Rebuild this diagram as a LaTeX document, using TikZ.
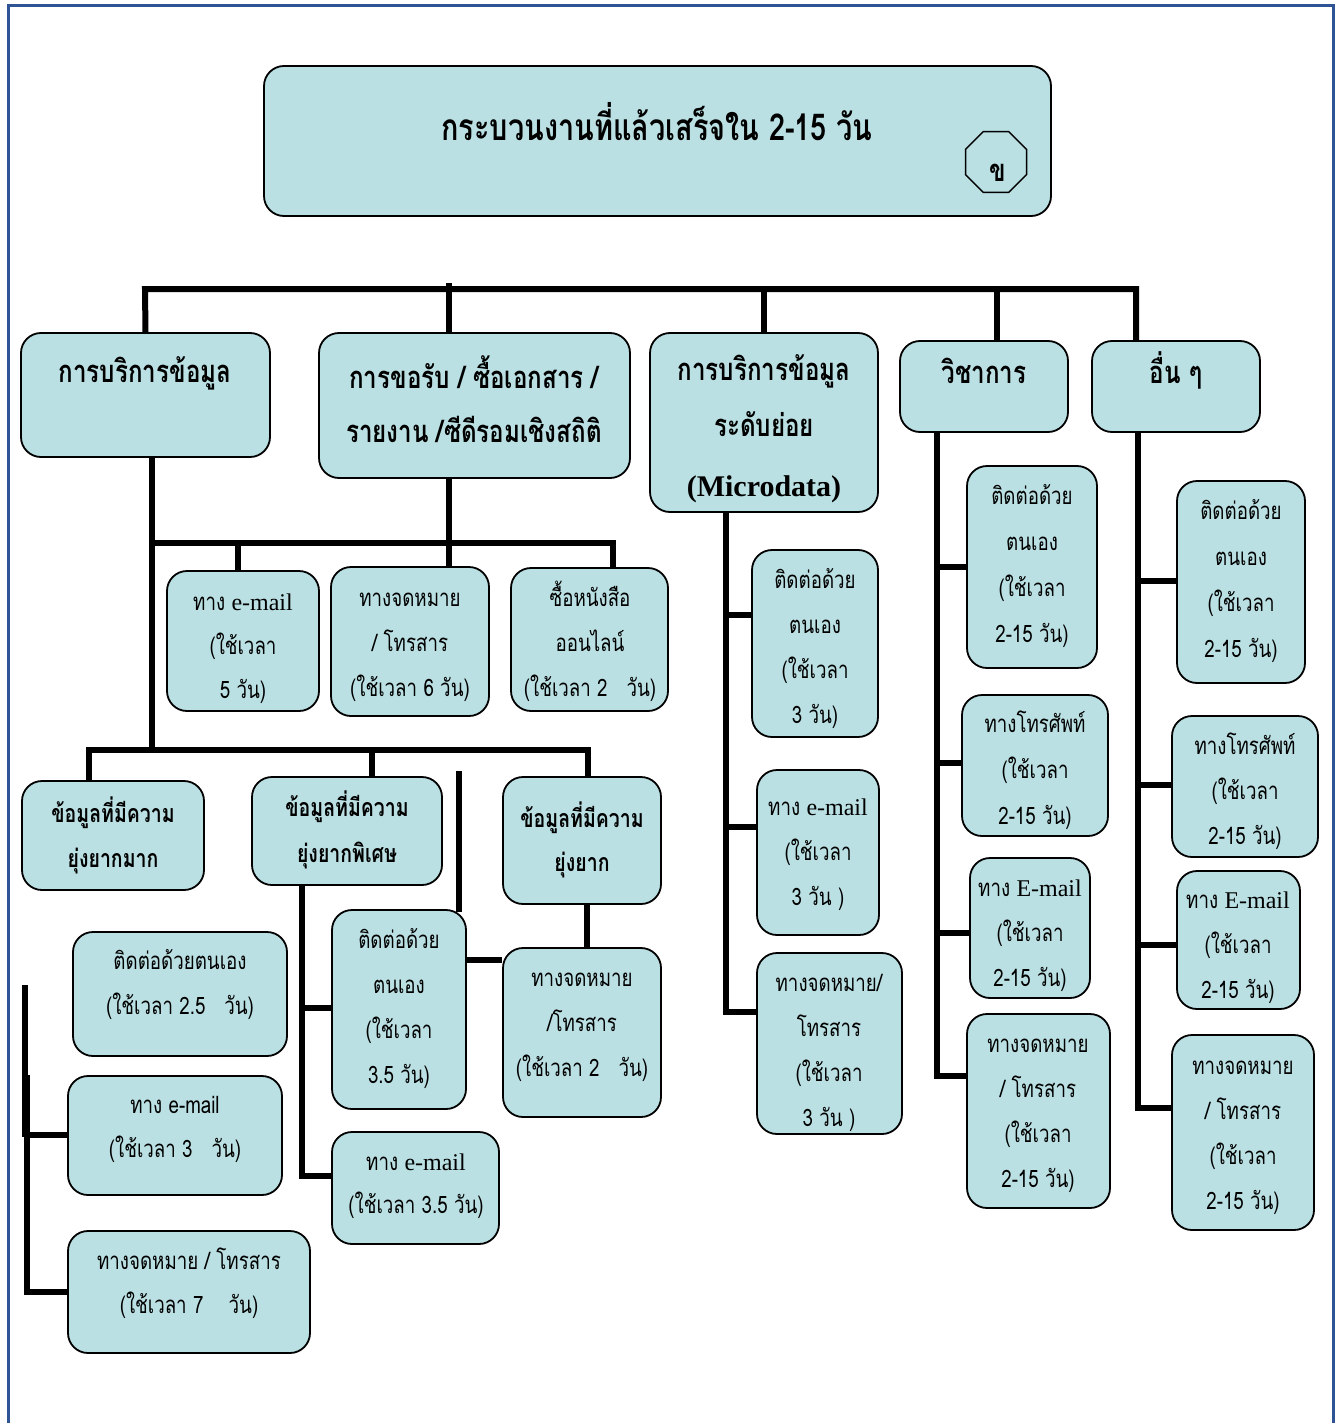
\documentclass[tikz,border=0pt]{standalone}
\usepackage{fontspec}
\usetikzlibrary{shapes.geometric}
\setmainfont[Script=Thai]{Loma}
\newfontfamily\threg[Script=Thai,FakeStretch=0.78]{Loma}
\newfontfamily\en{Liberation Serif}
\definecolor{boxfill}{RGB}{186,224,227}
\definecolor{frameblue}{RGB}{47,84,150}
\tikzset{
  box/.style={draw=black, line width=1.8pt, fill=boxfill, rounded corners=20pt, inner sep=0pt},
  conn/.style={draw=black, line width=6pt},
  frm/.style={draw=frameblue, line width=3pt},
  tx/.style={inner sep=0pt, anchor=base, font=\threg\fontsize{24}{28}\selectfont},
  hd/.style={inner sep=0pt, anchor=base, font=\threg\bfseries\fontsize{31}{34}\selectfont},
  sh/.style={inner sep=0pt, anchor=base, font=\threg\bfseries\fontsize{25}{28}\selectfont},
  ttl/.style={inner sep=0pt, anchor=base, font=\threg\bfseries\fontsize{37}{40}\selectfont},
}
\newcommand\bx[5]{\node[box, minimum width={(#4-#2)*1pt}, minimum height={(#5-#3)*1pt}] (#1) at ({(#2+#4)/2},{(#3+#5)/2}) {};}
\newcommand\tl[6]{\foreach \l [count=\i] in {#6}{\node[#1] (#2-\i) at (#3,{#4+(\i-1)*#5}) {\l};}}
\begin{document}
\begin{tikzpicture}[x=1pt,y=-1pt]
\useasboundingbox (0,0) rectangle (1341,1423);
% frame
\draw[frm] (8,1430) -- (8,6) -- (1333,6) -- (1333,1430);

% junction coordinates
\coordinate (t1) at (145,289);
\coordinate (t2) at (449,283);
\coordinate (t3) at (764,289);
\coordinate (t4) at (997,289);
\coordinate (t5) at (1136,289);
\coordinate (a1) at (152,543);
\coordinate (a2) at (449,543);
\coordinate (a3) at (613,543);
\coordinate (a4) at (238,543);
\coordinate (m0) at (152,750);
\coordinate (m1) at (89,750);
\coordinate (m2) at (372,750);
\coordinate (m3) at (588,750);
\coordinate (s1) at (459,771);
\coordinate (s2) at (459,912);
\coordinate (d2v) at (302,885);
\coordinate (d2a) at (302,1008);
\coordinate (d2b) at (302,1176);
\coordinate (d3v) at (587,948);
\coordinate (ef) at (466,960);
\coordinate (g0) at (25,985);
\coordinate (g1) at (25,1137);
\coordinate (g2) at (27,1075);
\coordinate (g3) at (27,1135);
\coordinate (g4) at (27,1292);
\coordinate (h0) at (726,512);
\coordinate (h1) at (726,615);
\coordinate (h2) at (726,827);
\coordinate (h3) at (726,1012);
\coordinate (i0) at (937,432);
\coordinate (i1) at (937,567);
\coordinate (i2) at (937,763);
\coordinate (i3) at (937,933);
\coordinate (i4) at (937,1076);
\coordinate (j0) at (1138,432);
\coordinate (j1) at (1138,581);
\coordinate (j2) at (1138,785);
\coordinate (j3) at (1138,945);
\coordinate (j4) at (1138,1108);

% boxes
\bx{title}{264}{66}{1051}{216}
\node[draw=black, line width=1.5pt, fill=boxfill, regular polygon, regular polygon sides=8, minimum size=66pt, inner sep=0pt] (oct) at (996,162) {};
\bx{b1}{21}{333}{270}{457}
\bx{b2}{319}{333}{630}{478}
\bx{b3}{650}{333}{878}{512}
\bx{b4}{900}{341}{1068}{432}
\bx{b5}{1092}{341}{1260}{432}
\bx{c1}{167}{571}{319}{711}
\bx{c2}{331}{567}{489}{716}
\bx{c3}{511}{568}{668}{711}
\bx{d1}{22}{781}{204}{890}
\bx{d2}{252}{777}{442}{885}
\bx{d3}{503}{777}{661}{904}
\bx{e1}{332}{910}{466}{1109}
\bx{e2}{332}{1132}{499}{1244}
\bx{f1}{503}{948}{661}{1117}
\bx{g1b}{73}{932}{287}{1056}
\bx{g2b}{68}{1076}{282}{1195}
\bx{g3b}{68}{1231}{310}{1353}
\bx{h1b}{752}{550}{878}{737}
\bx{h2b}{757}{770}{879}{935}
\bx{h3b}{757}{953}{902}{1134}
\bx{i1b}{967}{466}{1097}{668}
\bx{i2b}{962}{695}{1108}{836}
\bx{i3b}{970}{858}{1090}{998}
\bx{i4b}{967}{1014}{1110}{1208}
\bx{j1b}{1177}{481}{1305}{683}
\bx{j2b}{1172}{716}{1318}{857}
\bx{j3b}{1177}{871}{1300}{1009}
\bx{j4b}{1172}{1035}{1314}{1230}

% connectors
\draw[conn] (b1.north) -- (t1) -- (t5) -- (b5.north -| t5);
\draw[conn] (t2) -- (b2.north -| t2);
\draw[conn] (t3) -- (b3.north);
\draw[conn] (t4) -- (b4.north -| t4);
\draw[conn] (b1.south -| a1) -- (m0);
\draw[conn] (b2.south -| a2) -- (c2.north -| a2);
\draw[conn] (a1) -- (a3) -- (c3.north -| a3);
\draw[conn] (a4) -- (c1.north -| a4);
\draw[conn] (d1.north -| m1) -- (m1) -- (m3) -- (d3.north -| m3);
\draw[conn] (m2) -- (d2.north -| m2);
\draw[conn] (s1) -- (s2);
\draw[conn] (d2.south -| d2v) -- (d2b) -- (e2.west |- d2b);
\draw[conn] (d2a) -- (e1.west |- d2a);
\draw[conn] (d3.south -| d3v) -- (f1.north -| d3v);
\draw[conn] (ef) -- (f1.west |- ef);
\draw[conn] (g0) -- (g1);
\draw[conn] (g2) -- (g4) -- (g3b.west |- g4);
\draw[conn] (g3) -- (g2b.west |- g3);
\draw[conn] (b3.south -| h0) -- (h3) -- (h3b.west |- h3);
\draw[conn] (h1) -- (h1b.west |- h1);
\draw[conn] (h2) -- (h2b.west |- h2);
\draw[conn] (i0) -- (i4) -- (i4b.west |- i4);
\draw[conn] (i1) -- (i1b.west |- i1);
\draw[conn] (i2) -- (i2b.west |- i2);
\draw[conn] (i3) -- (i3b.west |- i3);
\draw[conn] (j0) -- (j4) -- (j4b.west |- j4);
\draw[conn] (j1) -- (j1b.west |- j1);
\draw[conn] (j2) -- (j2b.west |- j2);
\draw[conn] (j3) -- (j3b.west |- j3);

% texts
\node[ttl] (title-t) at (657,141) {กระบวนงานที่แล้วเสร็จใน 2-15 วัน};
\node[hd] (oct-t) at (998,182) {ข};
\tl{hd}{b1t}{145}{382}{54}{{การบริการข้อมูล}}
\tl{hd}{b2t}{474}{388}{54}{{การขอรับ / ซื้อเอกสาร /},{รายงาน /ซีดีรอมเชิงสถิติ}}
\tl{hd}{b3t}{764}{380}{56}{{การบริการข้อมูล},{ระดับย่อย}}
\node[hd, font=\en\bfseries\fontsize{30}{34}\selectfont] (b3t-3) at (764,496) {(Microdata)};
\tl{hd}{b4t}{984}{383}{54}{{วิชาการ}}
\tl{hd}{b5t}{1176}{383}{54}{{อื่น ๆ}}
\tl{tx}{c1t}{243}{610}{44}{{ทาง {\en e-mail}},{(ใช้เวลา},{5 วัน)}}
\tl{tx}{c2t}{410}{606}{45}{{ทางจดหมาย},{/ โทรสาร},{(ใช้เวลา 6 วัน)}}
\tl{tx}{c3t}{590}{606}{45}{{ซื้อหนังสือ},{ออนไลน์},{(ใช้เวลา 2~~ วัน)}}
\tl{sh}{d1t}{113}{822}{45}{{ข้อมูลที่มีความ},{ยุ่งยากมาก}}
\tl{sh}{d2t}{347}{816}{46}{{ข้อมูลที่มีความ},{ยุ่งยากพิเศษ}}
\tl{sh}{d3t}{582}{827}{44}{{ข้อมูลที่มีความ},{ยุ่งยาก}}
\tl{tx}{e1t}{399}{948}{45}{{ติดต่อด้วย},{ตนเอง},{(ใช้เวลา},{3.5 วัน)}}
\tl{tx}{e2t}{416}{1170}{43}{{ทาง {\en e-mail}},{(ใช้เวลา 3.5 วัน)}}
\tl{tx}{f1t}{582}{986}{45}{{ทางจดหมาย},{/โทรสาร},{(ใช้เวลา 2~~ วัน)}}
\tl{tx}{g1t}{180}{969}{45}{{ติดต่อด้วยตนเอง},{(ใช้เวลา 2.5~~ วัน)}}
\tl{tx}{g2t}{175}{1113}{44}{{ทาง e-mail},{(ใช้เวลา 3~~ วัน)}}
\tl{tx}{g3t}{189}{1269}{44}{{ทางจดหมาย / โทรสาร},{(ใช้เวลา 7~~~ วัน)}}
\tl{tx}{h1t}{815}{588}{45}{{ติดต่อด้วย},{ตนเอง},{(ใช้เวลา},{3 วัน)}}
\tl{tx}{h2t}{818}{815}{45}{{ทาง {\en e-mail}},{(ใช้เวลา},{3 วัน )}}
\tl{tx}{h3t}{829}{991}{45}{{ทางจดหมาย/},{โทรสาร},{(ใช้เวลา},{3 วัน )}}
\tl{tx}{i1t}{1032}{504}{46}{{ติดต่อด้วย},{ตนเอง},{(ใช้เวลา},{2-15 วัน)}}
\tl{tx}{i2t}{1035}{732}{46}{{ทางโทรศัพท์},{(ใช้เวลา},{2-15 วัน)}}
\tl{tx}{i3t}{1030}{896}{45}{{ทาง {\en E-mail}},{(ใช้เวลา},{2-15 วัน)}}
\tl{tx}{i4t}{1038}{1052}{45}{{ทางจดหมาย},{/ โทรสาร},{(ใช้เวลา},{2-15 วัน)}}
\tl{tx}{j1t}{1241}{519}{46}{{ติดต่อด้วย},{ตนเอง},{(ใช้เวลา},{2-15 วัน)}}
\tl{tx}{j2t}{1245}{754}{45}{{ทางโทรศัพท์},{(ใช้เวลา},{2-15 วัน)}}
\tl{tx}{j3t}{1238}{908}{45}{{ทาง {\en E-mail}},{(ใช้เวลา},{2-15 วัน)}}
\tl{tx}{j4t}{1243}{1074}{45}{{ทางจดหมาย},{/ โทรสาร},{(ใช้เวลา},{2-15 วัน)}}
\end{tikzpicture}
\end{document}
